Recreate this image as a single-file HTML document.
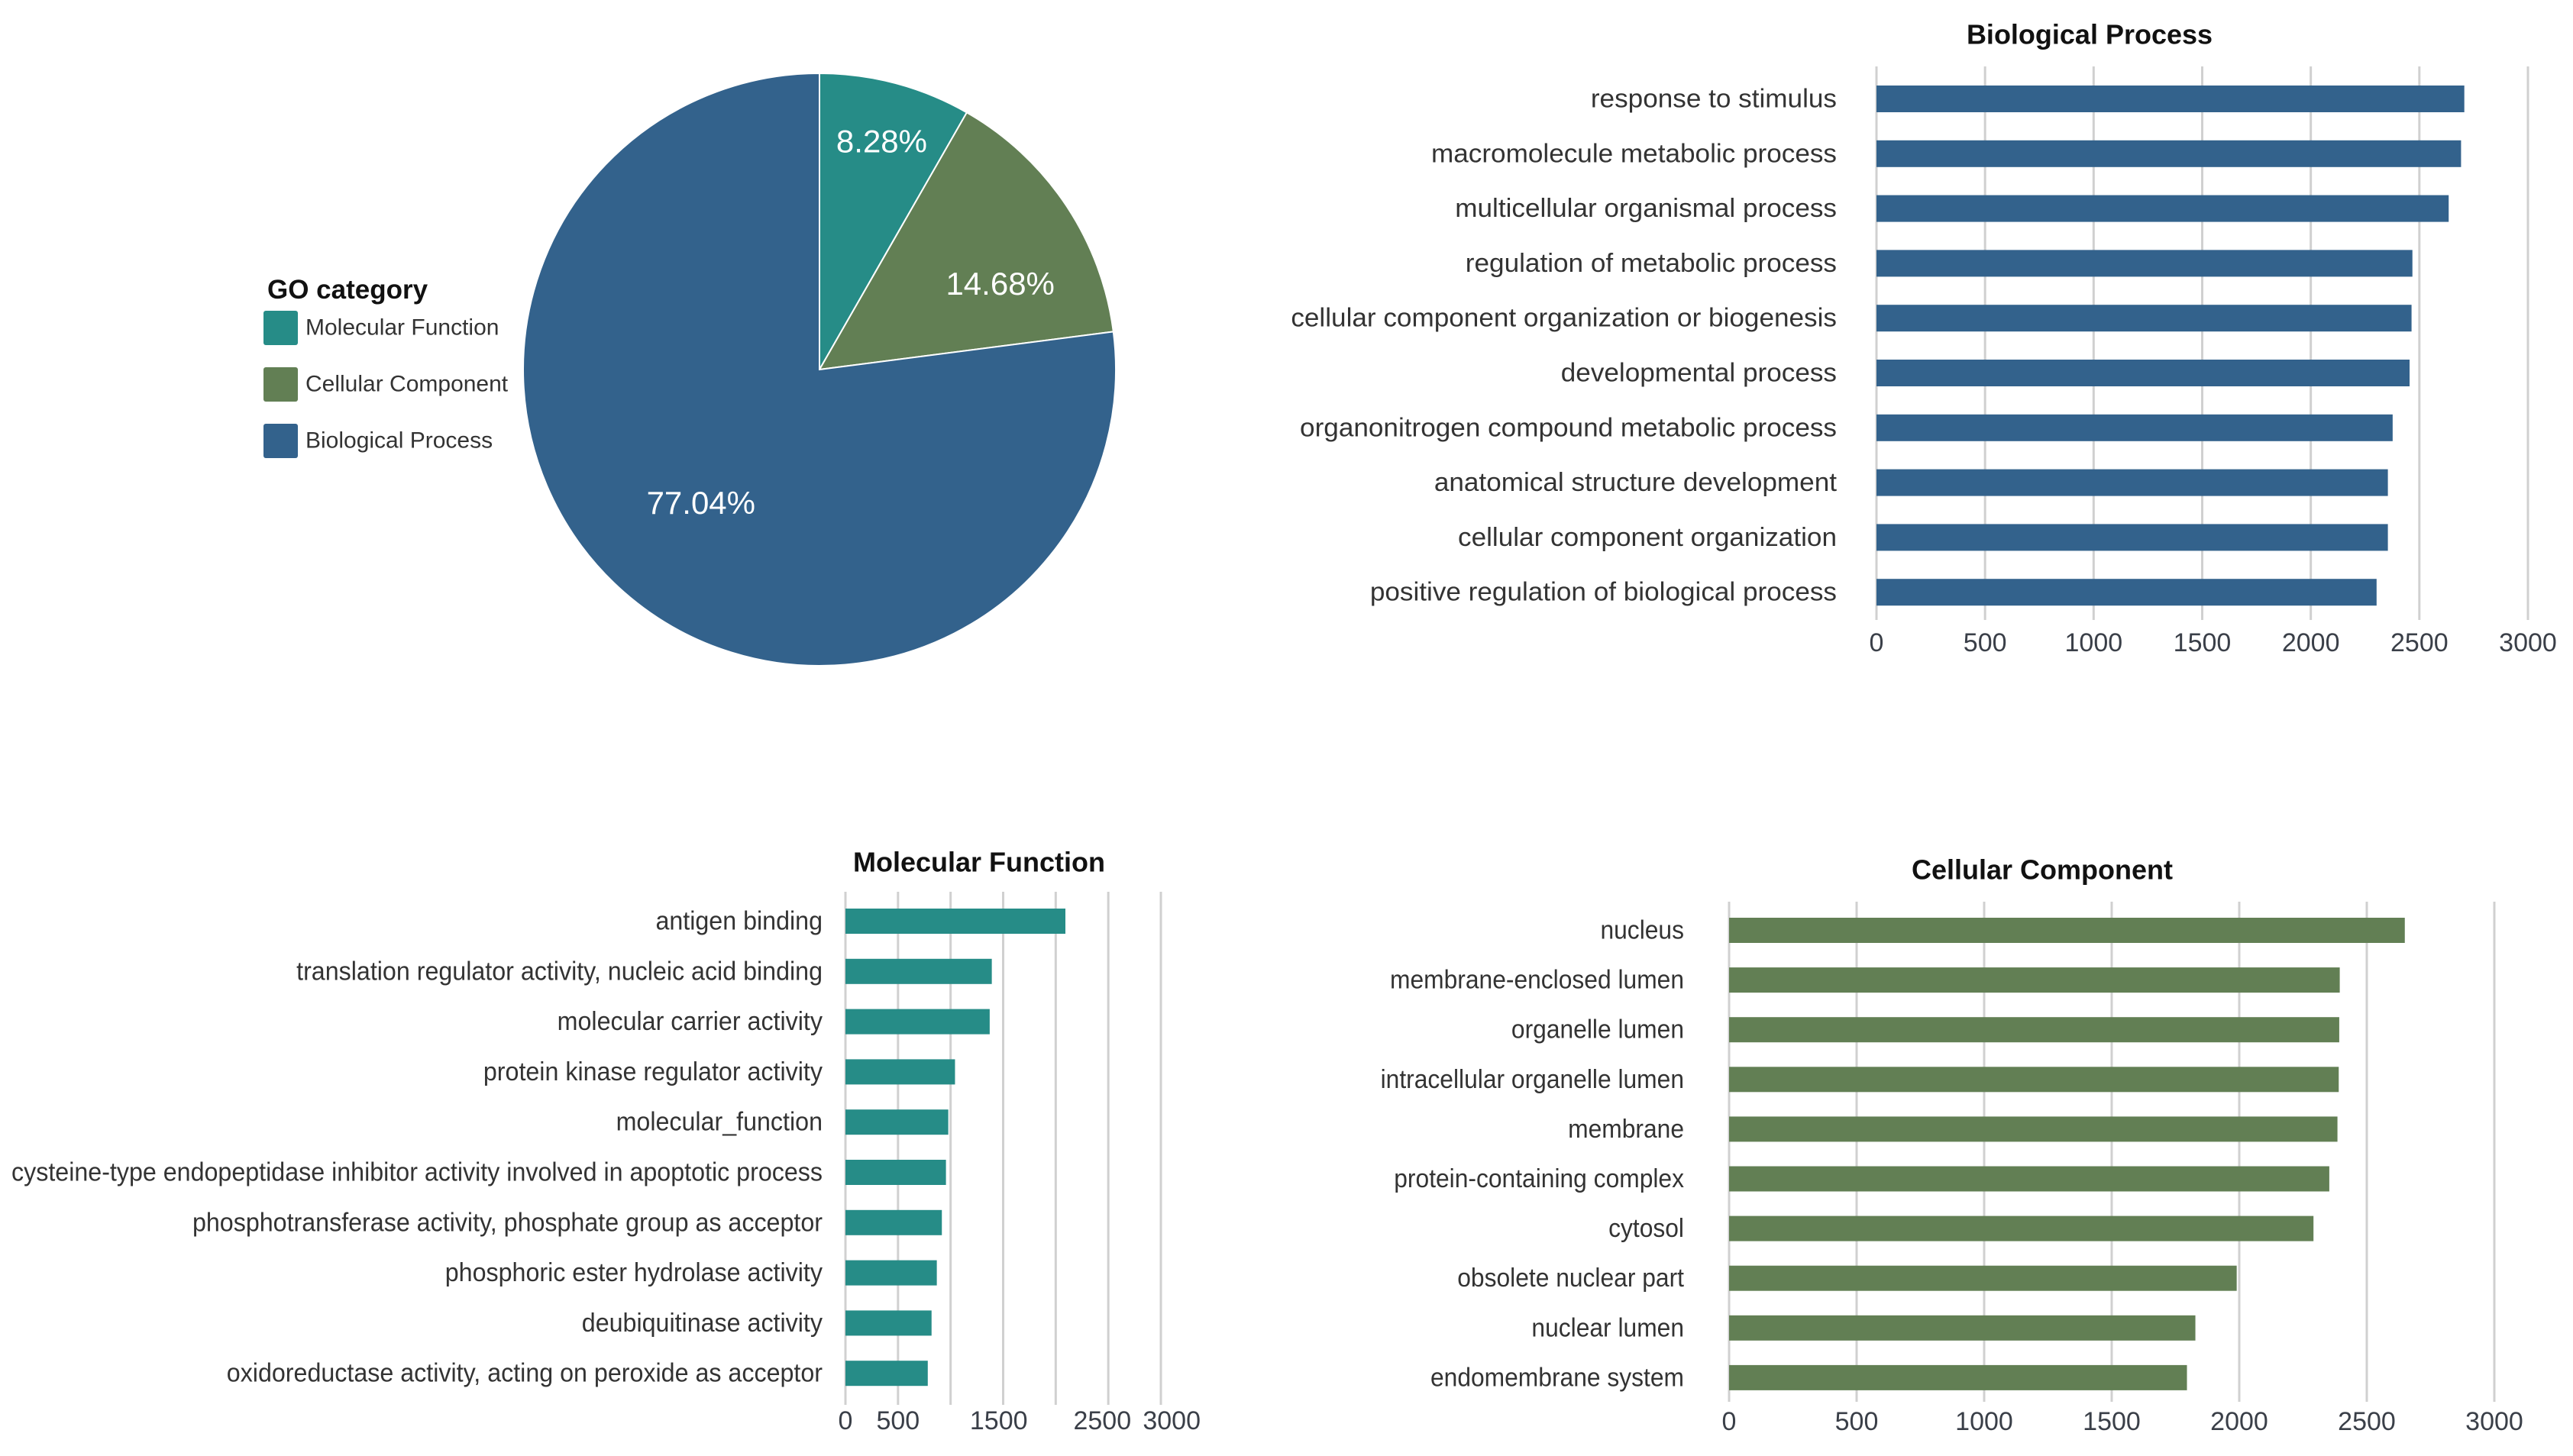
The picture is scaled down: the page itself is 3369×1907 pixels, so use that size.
<!DOCTYPE html>
<html><head><meta charset="utf-8"><style>
html,body{margin:0;padding:0;background:#fff;width:3369px;height:1907px;overflow:hidden}
svg{display:block;font-family:"Liberation Sans",Arial,sans-serif}
</style></head><body>
<svg id="root" width="3369" height="1907" viewBox="0 0 3369 1907">
  <g id="pie"></g>
  <g id="legend">
    <text x="350" y="391" font-size="35" font-weight="bold" fill="#111">GO category</text>
  </g>
  <g id="bp"></g>
  <g id="mf"></g>
  <g id="cc"></g>
</svg>
<script>
const NS="http://www.w3.org/2000/svg";
const pieCategories=["Molecular Function","Cellular Component","Biological Process"];
const pieValues=[8.28,14.68,77.04];
const pieColors=["#268c87","#627f54","#33628c"];

const bpCategories=["response to stimulus","macromolecule metabolic process","multicellular organismal process","regulation of metabolic process","cellular component organization or biogenesis","developmental process","organonitrogen compound metabolic process","anatomical structure development","cellular component organization","positive regulation of biological process"];
const bpValues=[2707,2692,2635,2468,2464,2455,2377,2355,2355,2303];
const bpTicks=[0,500,1000,1500,2000,2500,3000];
const bpTickLabels=["0","500","1000","1500","2000","2500","3000"];

const mfCategories=["antigen binding","translation regulator activity, nucleic acid binding","molecular carrier activity","protein kinase regulator activity","molecular_function","cysteine-type endopeptidase inhibitor activity involved in apoptotic process","phosphotransferase activity, phosphate group as acceptor","phosphoric ester hydrolase activity","deubiquitinase activity","oxidoreductase activity, acting on peroxide as acceptor"];
const mfValues=[2092,1392,1372,1042,978,956,917,869,819,783];
const mfGrid=[0,500,1000,1500,2000,2500,3000];
const mfTickValues=[0,500,1458,2443,3103];
const mfTickLabels=["0","500","1500","2500","3000"];

const ccCategories=["nucleus","membrane-enclosed lumen","organelle lumen","intracellular organelle lumen","membrane","protein-containing complex","cytosol","obsolete nuclear part","nuclear lumen","endomembrane system"];
const ccValues=[2649,2394,2392,2390,2385,2353,2291,1990,1828,1795];
const ccTicks=[0,500,1000,1500,2000,2500,3000];
const ccTickLabels=["0","500","1000","1500","2000","2500","3000"];

function mk(tag,attrs,parent){const e=document.createElementNS(NS,tag);for(const k in attrs)e.setAttribute(k,attrs[k]);parent.appendChild(e);return e;}

(function(){
  const g=document.getElementById('pie');
  const cx=1073,cy=484,r=388;
  const total=pieValues.reduce((a,b)=>a+b,0);
  let a0=0;
  const labelOffsets=[[0.21,-0.77],[0.61,-0.29],[-0.40,0.45]];
  pieValues.forEach((v,i)=>{
    const a1=a0+v/total*2*Math.PI;
    const x0=cx+r*Math.sin(a0),y0=cy-r*Math.cos(a0),x1=cx+r*Math.sin(a1),y1=cy-r*Math.cos(a1);
    const large=(a1-a0)>Math.PI?1:0;
    const p=mk('path',{d:`M${cx},${cy}L${x0},${y0}A${r},${r} 0 ${large} 1 ${x1},${y1}Z`,fill:pieColors[i],stroke:"#fff","stroke-width":2},g);
    
    
    const t=mk('text',{x:cx+labelOffsets[i][0]*r,y:cy+labelOffsets[i][1]*r,"font-size":42,fill:"#fff","text-anchor":"middle","dominant-baseline":"central"},g);
    t.textContent=v.toFixed(2)+"%";
    
    
    a0=a1;
  });
  const lg=document.getElementById('legend');
  pieCategories.forEach((c,i)=>{
    const y=407+i*74;
    const s=mk('rect',{x:345,y:y,width:45,height:45,rx:3,fill:pieColors[i]},lg);
    
    
    const t=mk('text',{x:400,y:y+22,"font-size":30,fill:"#333","dominant-baseline":"central"},lg);
    t.textContent=c;
    
    
  });
})();

function barChart(o){
  const g=document.getElementById(o.id);
  const sx=v=>o.x0+(v/3000)*(o.x3000-o.x0);
  o.grid.forEach(v=>{
    const l=mk('line',{x1:sx(v),x2:sx(v),y1:o.gy0,y2:o.gy1,stroke:"#d0d0d0","stroke-width":3},g);
    
    
  });
  o.tickVals.forEach((v,i)=>{
    const t=mk('text',{x:sx(v),y:o.ty,"font-size":34,fill:"#3a3f48","text-anchor":"middle","dominant-baseline":"central"},g);
    t.textContent=o.tickLabels[i];
    
    
  });
  const labels=[];
  o.cats.forEach((c,i)=>{
    const y=o.by0+i*o.step;
    const b=mk('rect',{x:o.x0,y:y,width:sx(o.vals[i])-o.x0,height:o.bh,fill:o.color},g);
    
    
    const t=mk('text',{x:o.lx,y:y+o.bh/2,"font-size":34,fill:"#333","text-anchor":"end","dominant-baseline":"central"},g);
    t.textContent=c;
    
    
    labels.push(t);
  });
  const ref=labels[o.refIdx].getComputedTextLength();
  const f=o.refW/ref;
  labels.forEach(t=>{const w=t.getComputedTextLength();t.setAttribute('textLength',w*f);t.setAttribute('lengthAdjust','spacingAndGlyphs');});
  const tt=mk('text',{x:o.titleX,y:o.titleY,"font-size":36,"font-weight":"bold",fill:"#111","text-anchor":"middle","dominant-baseline":"central"},g);
  tt.textContent=o.title;
  
  
}

barChart({id:'bp',cats:bpCategories,vals:bpValues,grid:bpTicks,tickVals:bpTicks,tickLabels:bpTickLabels,
  x0:2457,x3000:3310,gy0:87,gy1:812,ty:842,by0:112,step:71.8,bh:35,color:"#33628c",lx:2405,refIdx:1,refW:531,
  title:"Biological Process",titleX:2736,titleY:45});
barChart({id:'mf',cats:mfCategories,vals:mfValues,grid:mfGrid,tickVals:mfTickValues,tickLabels:mfTickLabels,
  x0:1107,x3000:1520,gy0:1168,gy1:1840,ty:1861,by0:1190,step:65.8,bh:33,color:"#268c87",lx:1077,refIdx:5,refW:1062,
  title:"Molecular Function",titleX:1282,titleY:1129});
barChart({id:'cc',cats:ccCategories,vals:ccValues,grid:ccTicks,tickVals:ccTicks,tickLabels:ccTickLabels,
  x0:2264,x3000:3266,gy0:1181,gy1:1836,ty:1862,by0:1202,step:65.1,bh:33,color:"#627f54",lx:2205,refIdx:1,refW:385,
  title:"Cellular  Component",titleX:2674,titleY:1139});
</script>
</body></html>
